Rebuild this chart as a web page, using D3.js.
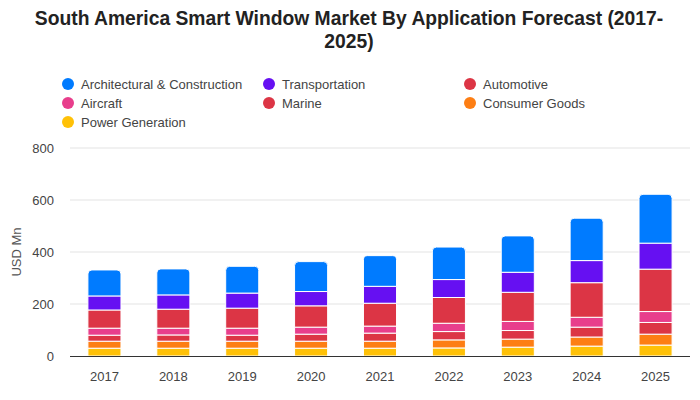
<!DOCTYPE html>
<html><head><meta charset="utf-8">
<script src="https://cdn.jsdelivr.net/npm/d3@7"></script>
<style>body{margin:0;background:#fff;}svg{display:block;}</style>
</head><body>
<svg id="chart" width="700" height="400"></svg>
<script>
const years = ["2017","2018","2019","2020","2021","2022","2023","2024","2025"];
const seriesNames = ["Architectural & Construction","Transportation","Automotive","Aircraft","Marine","Consumer Goods","Power Generation"];
const seriesColors = ["#007bff","#6610f2","#dc3545","#e83e8c","#dc3545","#fd7e14","#ffc107"];
const architectural = [100,100,103,115,118,125,140,163,188];
const transportation = [54,55,58,55,65,69,77,85,100];
const automotive = [70,73,77,82,88,99,112,133,163];
const aircraft = [27,26,27,27,27,32,35,38,42];
const marine = [23,24,23,27,31,32,33,38,45];
const consumerGoods = [27,27,27,27,27,31,31,35,42];
const powerGeneration = [30,30,30,30,30,31,34,38,42];
const yTicks = [0,200,400,600,800];

(function(){
const seriesValues = [architectural,transportation,automotive,aircraft,marine,consumerGoods,powerGeneration];
const table = years.map((yr,i)=>{const o={year:yr}; seriesNames.forEach((n,j)=>o[n]=seriesValues[j][i]); return o;});
const stackOrder = seriesNames.slice().reverse();
const stacked = d3.stack().keys(stackOrder)(table);

const svg = d3.select("#chart");
const font = "'Liberation Sans', Arial, sans-serif";
const pLeft=70, pRight=690, pTop=148, pBottom=356;
const x = d3.scaleBand().domain(years).range([pLeft,pRight]).paddingInner(0.52).paddingOuter(0.26);
const y = d3.scaleLinear().domain([0,800]).range([pBottom,pTop]);

const title = svg.append("text").attr("x",350).attr("text-anchor","middle")
  .attr("font-family",font).attr("font-weight","bold")
  .attr("font-size",19.3).attr("fill","#222");
title.append("tspan").attr("x",349).attr("y",25).text("South America Smart Window Market By Application Forecast (2017-");
title.append("tspan").attr("x",349).attr("y",48).text("2025)");

const legCols=[68,269,470], legRows=[84,103,122];
seriesNames.forEach((n,i)=>{
  const cx=legCols[i%3], cy=legRows[Math.floor(i/3)];
  svg.append("circle").attr("cx",cx).attr("cy",cy).attr("r",6).attr("fill",seriesColors[i]);
  svg.append("text").attr("x",cx+13).attr("y",cy+4.5).attr("font-family",font).attr("font-size",13)
    .attr("fill","#444").text(n);
});

svg.append("g").selectAll("line").data(yTicks.filter(d=>d>0)).join("line")
  .attr("x1",pLeft).attr("x2",pRight).attr("y1",d=>y(d)).attr("y2",d=>y(d))
  .attr("stroke","#e3e3e3").attr("stroke-width",1);

const yAxis = svg.append("g").attr("transform",`translate(${pLeft},0)`)
  .call(d3.axisLeft(y).tickValues(yTicks).tickSize(0).tickPadding(16));
yAxis.select(".domain").remove();
yAxis.selectAll("text").attr("font-family",font).attr("font-size",13).attr("fill","#444");

svg.append("text").attr("transform","translate(21,252) rotate(-90)").attr("text-anchor","middle")
  .attr("font-family",font).attr("font-size",13).attr("fill","#555").text("USD Mn");

const colorOf = n=>seriesColors[seriesNames.indexOf(n)];
const topKey = stackOrder[stackOrder.length-1];
const r=4;
stacked.forEach(layer=>{
  const g = svg.append("g").attr("fill",colorOf(layer.key));
  layer.forEach(d=>{
    const x0=x(d.data.year), w=x.bandwidth(), y0=y(d[0]), y1=y(d[1]);
    if(layer.key===topKey){
      g.append("path").attr("d",
        `M${x0},${y0}V${y1+r}Q${x0},${y1} ${x0+r},${y1}H${x0+w-r}Q${x0+w},${y1} ${x0+w},${y1+r}V${y0}Z`)
        .attr("stroke","#fff").attr("stroke-width",1);
    } else {
      g.append("rect").attr("x",x0).attr("y",y1).attr("width",w).attr("height",y0-y1)
        .attr("stroke","#fff").attr("stroke-width",1);
    }
  });
});

svg.append("line").attr("x1",pLeft).attr("x2",pRight).attr("y1",pBottom+0.5).attr("y2",pBottom+0.5)
  .attr("stroke","#333").attr("stroke-width",1);

const xAxis = svg.append("g").attr("transform",`translate(0,${pBottom})`)
  .call(d3.axisBottom(x).tickSize(0).tickPadding(16));
xAxis.select(".domain").remove();
xAxis.selectAll("text").attr("font-family",font).attr("font-size",13).attr("fill","#444");
})();
</script>
</body></html>
